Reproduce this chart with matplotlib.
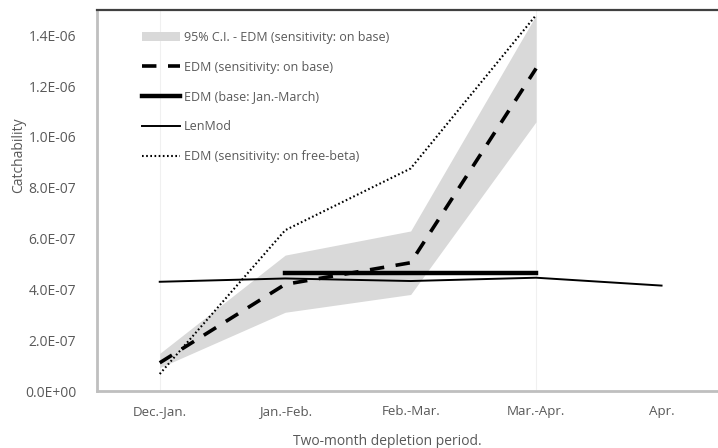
import matplotlib
matplotlib.use("Agg")
import matplotlib.pyplot as plt
import numpy as np

plt.rcParams['font.family'] = ['Open Sans', 'DejaVu Sans']

categories = ["Dec.-Jan.", "Jan.-Feb.", "Feb.-Mar.", "Mar.-Apr.", "Apr."]
ci_lower = [0.92e-7, 3.10e-7, 3.80e-7, 1.06e-6]
ci_upper = [1.48e-7, 5.35e-7, 6.30e-7, 1.48e-6]
edm_sens = [1.11e-7, 4.20e-7, 5.05e-7, 1.27e-6]
edm_base = [4.65e-7, 4.65e-7, 4.65e-7]
lenmod = [4.30e-7, 4.43e-7, 4.33e-7, 4.46e-7, 4.15e-7]
edm_free = [0.67e-7, 6.33e-7, 8.76e-7, 1.48e-6]
yticks = [0, 2e-7, 4e-7, 6e-7, 8e-7, 1.0e-6, 1.2e-6, 1.4e-6]
ytick_labels = ["0.0E+00", "2.0E-07", "4.0E-07", "6.0E-07", "8.0E-07", "1.0E-06", "1.2E-06", "1.4E-06"]

W, H = 718, 448
fig = plt.figure(figsize=(W/100, H/100), dpi=100)
ax = fig.add_axes([97/W, (H-391)/H, (W-97)/W, (391-10)/H])

x = np.arange(len(categories))
txt = '#595959'

ax.fill_between(x[:4], ci_lower, ci_upper, color='#d9d9d9', linewidth=0,
                label='95% C.I. - EDM (sensitivity: on base)', zorder=1)
ax.plot(x[:4], edm_sens, color='black', lw=2.6, dashes=(4, 3.2),
        label='EDM (sensitivity: on base)', zorder=4)
ax.plot(x[1:4], edm_base, color='black', lw=3.2,
        label='EDM (base: Jan.-March)', zorder=3)
ax.plot(x, lenmod, color='black', lw=1.4, label='LenMod', zorder=3)
ax.plot(x[:4], edm_free, color='black', lw=1.5, linestyle=(0, (0.8, 1.2)),
        label='EDM (sensitivity: on free-beta)', zorder=3)

# faint vertical lines at ends of the CI series
for xi in (0, 3):
    ax.axvline(xi, color='#f0f0f0', lw=0.8, zorder=0)

ax.set_xlim(-0.5, 4.45)
ax.set_ylim(0, 1.5e-6)
ax.set_xticks(x)
ax.set_xticklabels(categories, color=txt, fontsize=9.6)
ax.set_yticks(yticks)
ax.set_yticklabels(ytick_labels, color=txt, fontsize=10)
ax.tick_params(length=0)
ax.tick_params(axis='x', pad=10)
ax.tick_params(axis='y', pad=15)

for s in ('left', 'bottom'):
    ax.spines[s].set_color('#bfbfbf')
    ax.spines[s].set_linewidth(2)
ax.spines['right'].set_visible(False)
ax.spines['top'].set_color('#404040')
ax.spines['top'].set_linewidth(1.6)

ax.set_ylabel('Catchability', color=txt, fontsize=10)
ax.set_xlabel('Two-month depletion period.', color=txt, fontsize=10)
ax.yaxis.set_label_coords(-0.114, 0.62)
ax.xaxis.set_label_coords((387 - 97) / (W - 97), -0.112)

leg = ax.legend(loc='upper left', bbox_to_anchor=(0.055, 0.975), frameon=False,
                fontsize=9, handlelength=3.0, handletextpad=0.3,
                labelspacing=1.35, labelcolor=txt)

fig.savefig('out.png', dpi=100)
